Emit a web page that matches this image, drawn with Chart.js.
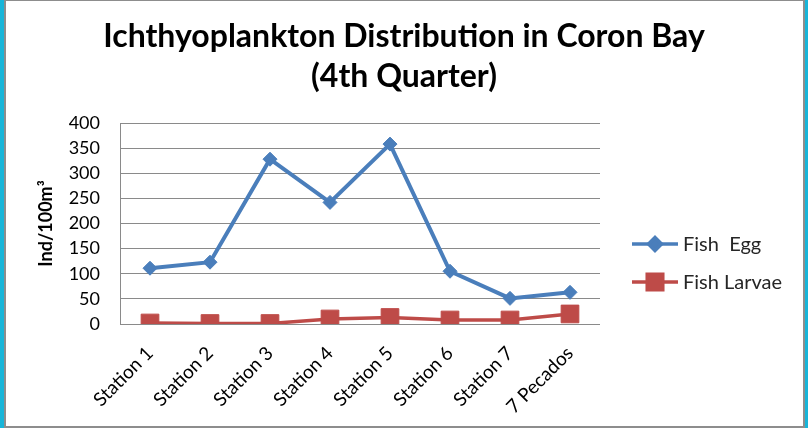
<!DOCTYPE html>
<html>
<head>
<meta charset="utf-8">
<title>Ichthyoplankton Distribution in Coron Bay</title>
<script src="https://cdn.jsdelivr.net/npm/chart.js@4.4.1/dist/chart.umd.min.js"></script>
<style>
  body { margin: 0; background: #17b5d9; width: 808px; height: 428px; overflow: hidden; }
  #frame {
    position: absolute; left: 4px; top: 0; width: 801px; height: 428px;
    box-sizing: border-box; border: 2px solid #8d8d8d; border-top-width: 1px;
    background: #fff;
  }
  #wrap { position: absolute; left: 0; top: 0; width: 808px; height: 428px; }
</style>
</head>
<body>
<div id="frame"></div>
<div id="wrap"><canvas id="myChart"></canvas></div>
<script>
const estaciones = ['Station 1', 'Station 2', 'Station 3', 'Station 4', 'Station 5', 'Station 6', 'Station 7', '7 Pecados'];
const fishEgg = [111, 123, 328, 242, 358, 105, 51, 63];
const fishLarvae = [2, 1, 1, 10, 13, 8, 8, 20];
const yTicks = [0, 50, 100, 150, 200, 250, 300, 350, 400];

const gridColor = '#8a8a8a';

// legend on the right: a short line with the marker in the middle
const sideLegend = {
    id: 'sideLegend',
    afterDraw(chart) {
        const ctx = chart.ctx;
        const area = chart.chartArea;
        chart.data.datasets.forEach((ds, i) => {
            const x0 = area.right + 32;
            const x1 = x0 + 46;
            const y = 244 + i * 38;
            ctx.save();
            ctx.strokeStyle = ds.borderColor;
            ctx.lineWidth = 3.5;
            ctx.beginPath();
            ctx.moveTo(x0, y);
            ctx.lineTo(x1, y);
            ctx.stroke();
            ctx.fillStyle = ds.pointBackgroundColor;
            ctx.strokeStyle = ds.pointBackgroundColor;
            Chart.helpers.drawPoint(ctx, {
                pointStyle: ds.pointStyle,
                radius: ds.pointStyle === 'rect' ? 11 : 6.5,
                borderWidth: 1,
                rotation: 0
            }, (x0 + x1) / 2, y);
            ctx.fillStyle = '#262626';
            ctx.font = '20px Lato';
            ctx.textBaseline = 'middle';
            ctx.textAlign = 'left';
            ctx.fillText(ds.label, x1 + 5, y + 1);
            ctx.restore();
        });
    }
};

const ctx = document.getElementById('myChart').getContext('2d');
const myChart = new Chart(ctx, {
    type: 'line',
    data: {
        labels: estaciones,
        datasets: [
            {
                label: 'Fish  Egg',
                data: fishEgg,
                borderColor: '#4a7ebb',
                backgroundColor: '#4a7ebb',
                pointBackgroundColor: '#4a7ebb',
                pointBorderColor: '#4a7ebb',
                borderWidth: 4,
                pointStyle: 'rectRot',
                pointRadius: 7,
                pointBorderWidth: 1,
                tension: 0,
                fill: false
            },
            {
                label: 'Fish Larvae',
                data: fishLarvae,
                borderColor: '#be4b48',
                backgroundColor: '#be4b48',
                pointBackgroundColor: '#be4b48',
                pointBorderColor: '#be4b48',
                borderWidth: 3.5,
                pointStyle: 'rect',
                pointRadius: 12.5,
                pointBorderWidth: 1,
                tension: 0,
                fill: false
            }
        ]
    },
    options: {
        responsive: true,
        maintainAspectRatio: false,
        animation: false,
        layout: { padding: { left: 4, right: 4, top: 0, bottom: 4 } },
        plugins: {
            legend: { display: false },
            tooltip: { enabled: false },
            title: {
                display: true,
                text: ['Ichthyoplankton Distribution in Coron Bay', '(4th Quarter)'],
                color: '#000',
                font: { family: 'Lato', size: 32, weight: 'bold', lineHeight: 1.25 },
                padding: { top: 17, bottom: 26 }
            }
        },
        scales: {
            x: {
                offset: true,
                grid: { display: false, drawTicks: false },
                border: { display: false },
                ticks: {
                    color: '#000',
                    font: { family: 'Lato', size: 19 },
                    minRotation: 45,
                    maxRotation: 45,
                    padding: 18
                },
                afterFit(scale) { scale.height = 100; }
            },
            y: {
                min: 0,
                max: 400,
                afterBuildTicks(scale) { scale.ticks = yTicks.map(v => ({ value: v })); },
                grid: { color: gridColor, lineWidth: 1, drawTicks: false },
                border: { display: true, color: gridColor, width: 1 },
                ticks: {
                    color: '#000',
                    font: { family: 'Lato', size: 18 },
                    padding: 20
                },
                title: {
                    display: true,
                    text: 'Ind/100m³',
                    color: '#000',
                    font: { family: 'Lato', size: 18, weight: 'bold' },
                    padding: { top: 31, bottom: 0 }
                },
                afterFit(scale) { scale.width = 116; }
            },
            // empty right-hand axis that keeps the space for the legend
            legendSpace: {
                axis: 'y',
                position: 'right',
                min: 0,
                max: 400,
                grid: { display: false, drawTicks: false },
                border: { display: false },
                ticks: { display: false },
                afterFit(scale) { scale.width = 204; }
            }
        }
    },
    plugins: [sideLegend]
});
</script>
</body>
</html>
